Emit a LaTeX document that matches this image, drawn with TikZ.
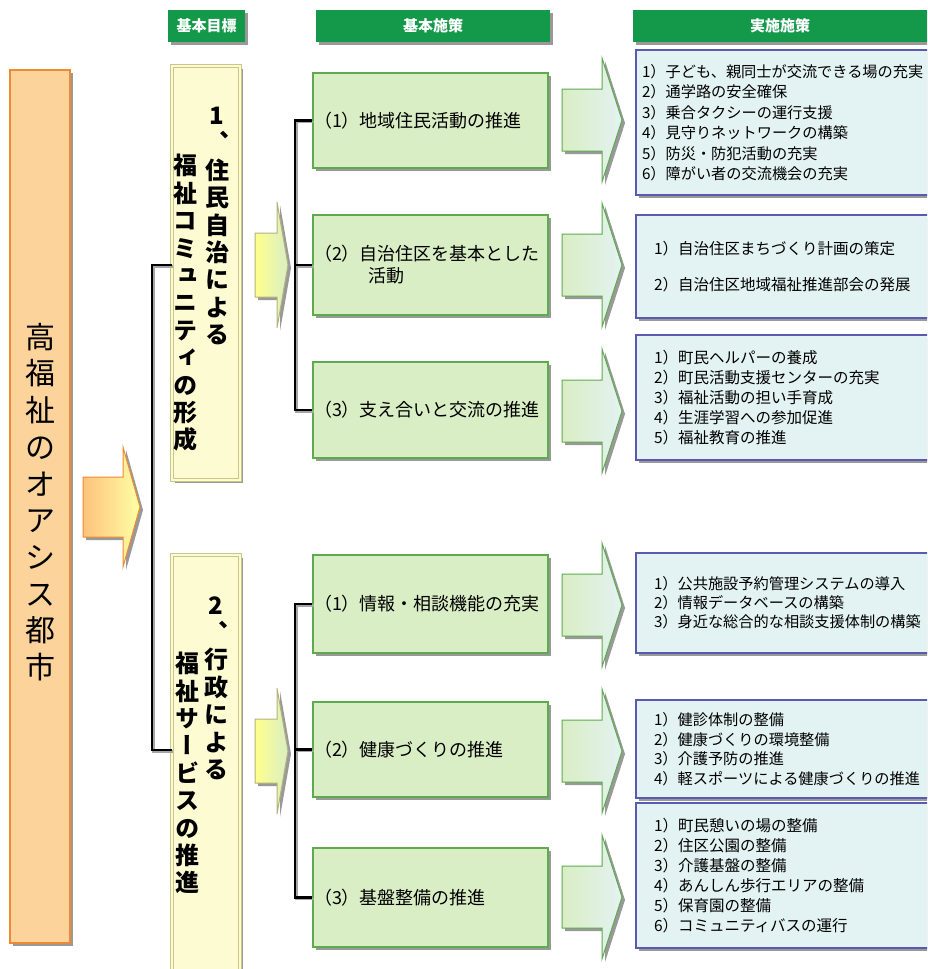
\documentclass[tikz,border=0pt]{standalone}
\usepackage{fontspec}
\setmainfont{Noto Sans CJK JP}
\newfontfamily\jpvert[RawFeature={+vert}]{Noto Sans CJK JP}
\usetikzlibrary{shadows}
\definecolor{hgreen}{HTML}{14994A}
\definecolor{oline}{HTML}{EE8A32}
\definecolor{ofill}{HTML}{FCD39B}
\definecolor{gline}{HTML}{C9C68A}
\definecolor{gfill}{HTML}{FDFBD2}
\definecolor{pline}{HTML}{5EAA4E}
\definecolor{pfill}{HTML}{D9EEC4}
\definecolor{iline}{HTML}{5A5AAE}
\definecolor{ifill}{HTML}{E3F2F2}
\tikzset{
  shd/.style={drop shadow={shadow xshift=3pt,shadow yshift=-3pt,fill=black!40,opacity=1}},
  hdr/.style={fill=hgreen,text=white,shd,minimum height=32pt,inner sep=0pt,font=\fontsize{15}{17}\selectfont\bfseries},
  mainbox/.style={draw=oline,line width=2pt,fill=ofill,shd,inner sep=0pt},
  goalbox/.style={draw=gline,line width=.8pt,double=gfill,double distance=2.5pt,fill=gfill,shd,minimum width=68pt,inner sep=0pt},
  vt/.style={align=center,inner sep=0pt,font=\jpvert\fontsize{24}{27.4}\selectfont\bfseries},
  polbox/.style={draw=pline,line width=1.5pt,fill=pfill,shd,minimum width=235pt,text width=233pt,inner xsep=1pt,align=left,font=\fontsize{18}{22}\selectfont},
  implbox/.style={draw=iline,line width=2pt,fill=ifill,shd,anchor=west,align=left,inner xsep=18pt,text width=290pt},
  brk/.style={line width=2.5pt,black,line join=miter,preaction={draw=black!35,line width=2.5pt,transform canvas={shift={(1.5pt,-1.5pt)}}}},
  oarrow/.style={draw=oline,line width=1pt,left color=ofill!80!orange,right color=yellow!35,shd},
  garrow/.style={draw=gline!90!black,line width=1pt,left color=yellow!45,right color=pfill,shd},
  parrow/.style={draw=pline,line width=1pt,left color=pfill,right color=ifill,shd}
}
\newcommand{\garr}[1]{\path[garrow] (255,#1-32) -- (277,#1-32) -- (277,#1-63) -- (288,#1) -- (277,#1+63) -- (277,#1+32) -- (255,#1+32) -- cycle;}
\newcommand{\parr}[1]{\path[parrow] (562,#1-31) -- (602,#1-31) -- (602,#1-62) -- (622,#1) -- (602,#1+62) -- (602,#1+31) -- (562,#1+31) -- cycle;}
\begin{document}
\begin{tikzpicture}[x=1pt,y=-1pt]
\useasboundingbox (0,0) rectangle (927,969);
\clip (0,0) rectangle (927,969);

% headers
\node[hdr,minimum width=77pt] (h1) at (206.5,26) {基本目標};
\node[hdr,minimum width=234pt] (h2) at (433,26) {基本施策};
\node[hdr,minimum width=294pt] (h3) at (780,26) {実施施策};

% main box
\node[mainbox,minimum width=60pt,minimum height=873pt] (m) at (40,506.5) {};
\node[align=center,inner sep=0pt,font=\fontsize{30}{36.7}\selectfont] (mt) at (40,502) {高\\福\\祉\\の\\オ\\ア\\シ\\ス\\都\\市};
\path[oarrow] (83,477) -- (123,477) -- (123,447) -- (140,507) -- (123,567) -- (123,537) -- (83,537) -- cycle;

% goal boxes
\node[goalbox,minimum height=414pt] (g1) at (206,273) {};
\node[goalbox,minimum height=425pt] (g2) at (206,767.5) {};
\node[vt] (g1r) at (217,226) {1\\、\\住\\民\\自\\治\\に\\よ\\る};
\node[vt] (g1l) at (185,303) {福\\祉\\コ\\ミ\\ュ\\ニ\\テ\\ィ\\の\\形\\成};
\node[vt] (g2r) at (216,688) {2\\、\\行\\政\\に\\よ\\る};
\node[vt] (g2l) at (187,773) {福\\祉\\サ\\ー\\ビ\\ス\\の\\推\\進};

% main bracket
\coordinate (mb1) at (152,265);
\coordinate (mb2) at (152,750);
\draw[brk] (g1.west |- mb1) -- (mb1) -- (mb2) -- (g2.west |- mb2);

\garr{265}
\garr{751}

% policy boxes
\node[polbox,minimum height=95pt] (p1) at (430.5,120.5) {（1）地域住民活動の推進};
\node[polbox,minimum height=100pt] (p2) at (430.5,265) {（2）自治住区を基本とした\\\hspace*{3em}活動};
\node[polbox,minimum height=96pt] (p3) at (430.5,410) {（3）支え合いと交流の推進};
\node[polbox,minimum height=98pt] (p4) at (430.5,604) {（1）情報・相談機能の充実};
\node[polbox,minimum height=95pt] (p5) at (430.5,749.5) {（2）健康づくりの推進};
\node[polbox,minimum height=99pt] (p6) at (430.5,897.5) {（3）基盤整備の推進};

\coordinate (pb) at (295,0);
\draw[brk] (p1.west) -- (p1.west -| pb) -- (p3.west -| pb) -- (p3.west);
\draw[brk] (p2.west) -- (p2.west -| pb);
\draw[brk] (p4.west) -- (p4.west -| pb) -- (p6.west -| pb) -- (p6.west);
\draw[brk] (p5.west) -- (p5.west -| pb);

\parr{120}
\parr{265}
\parr{411}
\parr{605}
\parr{751}
\parr{897}

% implementation boxes
\node[implbox,inner xsep=6pt,text width=300pt,minimum height=145pt,font=\fontsize{15.2}{20.5}\selectfont] (i1) at (635,122.5)
 {1）子ども、親同士が交流できる場の充実\\2）通学路の安全確保\\3）乗合タクシーの運行支援\\4）見守りネットワークの構築\\5）防災・防犯活動の充実\\6）障がい者の交流機会の充実};
\node[implbox,minimum height=103pt,font=\fontsize{15.5}{36}\selectfont] (i2) at (635,266.5)
 {1）自治住区まちづくり計画の策定\\2）自治住区地域福祉推進部会の発展};
\node[implbox,minimum height=125pt,font=\fontsize{15.5}{20}\selectfont] (i3) at (635,397.5)
 {1）町民ヘルパーの養成\\2）町民活動支援センターの充実\\3）福祉活動の担い手育成\\4）生涯学習への参加促進\\5）福祉教育の推進};
\node[implbox,minimum height=100pt,font=\fontsize{15.2}{19}\selectfont] (i4) at (635,603)
 {1）公共施設予約管理システムの導入\\2）情報データベースの構築\\3）身近な総合的な相談支援体制の構築};
\node[implbox,minimum height=98pt,font=\fontsize{15.2}{19.5}\selectfont] (i5) at (635,749)
 {1）健診体制の整備\\2）健康づくりの環境整備\\3）介護予防の推進\\4）軽スポーツによる健康づくりの推進};
\node[implbox,minimum height=145pt,font=\fontsize{15.5}{20}\selectfont] (i6) at (635,875.5)
 {1）町民憩いの場の整備\\2）住区公園の整備\\3）介護基盤の整備\\4）あんしん歩行エリアの整備\\5）保育園の整備\\6）コミュニティバスの運行};
\end{tikzpicture}
\end{document}
